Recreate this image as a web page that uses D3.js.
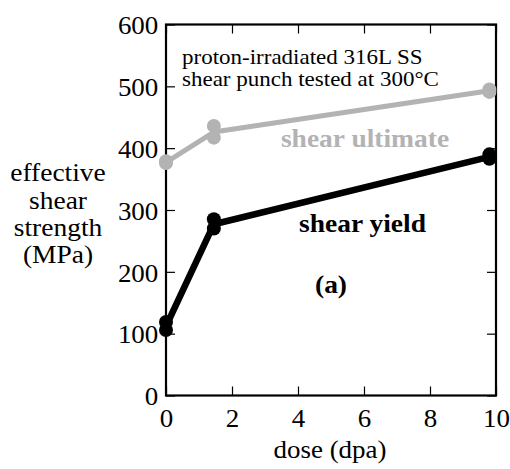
<!DOCTYPE html>
<html>
<head>
<meta charset="utf-8">
<script src="https://cdn.jsdelivr.net/npm/d3@7"></script>
<style>
  html, body { margin: 0; padding: 0; background: #fff; }
  svg { display: block; }
</style>
</head>
<body>
<svg id="chart" width="510" height="469"></svg>
<script>
// Shear punch results for proton-irradiated 316L stainless steel
const xTicks = [0, 2, 4, 6, 8, 10];
const yTicks = [0, 100, 200, 300, 400, 500, 600];

// individual specimen measurements (dose in dpa, strength in MPa)
const yieldDose = [0, 0, 1.45, 1.45, 9.8, 9.8];
const yieldStrength = [119, 106, 285, 270, 390, 383];
const ultimateDose = [0, 0, 1.45, 1.45, 9.8, 9.8];
const ultimateStrength = [379, 376, 436, 417, 495, 491];

// trend lines through the mean value at each dose
const yieldLineDose = [0, 1.45, 9.8];
const yieldLineStrength = [112, 277, 386];
const ultimateLineDose = [0, 1.45, 9.8];
const ultimateLineStrength = [377, 426, 493];

const FONT = '"Liberation Serif", "Times New Roman", serif';
const WIDEN = 1.1;   // slightly widened Times-style lettering
const svg = d3.select("#chart");
const plot = { left: 166, right: 496, top: 24.5, bottom: 395.5 };

const x = d3.scaleLinear().domain([0, 10]).range([plot.left, plot.right]);
const y = d3.scaleLinear().domain([0, 600]).range([plot.bottom, plot.top]);

const tickLen = 9;
const grey = "#b3b3b3";

// axes with inward ticks on all four sides
const axBottom = d3.axisBottom(x).tickValues(xTicks).tickSize(-tickLen).tickPadding(31.5).tickFormat(d3.format("d"));
const axTop = d3.axisTop(x).tickValues(xTicks).tickSize(-tickLen).tickFormat("");
const axLeft = d3.axisLeft(y).tickValues(yTicks).tickSize(-tickLen).tickPadding(7).tickFormat(d3.format("d"));
const axRight = d3.axisRight(y).tickValues(yTicks).tickSize(-tickLen).tickFormat("");

function style(g) {
  g.select(".domain").remove();
  g.selectAll(".tick line").attr("stroke", "#000").attr("stroke-width", 1.2);
  g.selectAll(".tick text")
    .style("font-family", FONT)
    .style("font-size", "24.5px")
    .attr("fill", "#000")
    .attr("transform", `scale(${WIDEN},1)`);
}

svg.append("g").attr("transform", `translate(0,${plot.bottom})`).call(axBottom).call(style)
  .selectAll(".tick text").attr("dy", "0");
svg.append("g").attr("transform", `translate(0,${plot.top})`).call(axTop).call(style);
svg.append("g").attr("transform", `translate(${plot.left},0)`).call(axLeft).call(style)
  .selectAll(".tick text").attr("dy", "0.38em");
svg.append("g").attr("transform", `translate(${plot.right},0)`).call(axRight).call(style);

// frame
svg.append("rect")
  .attr("x", plot.left).attr("y", plot.top)
  .attr("width", plot.right - plot.left).attr("height", plot.bottom - plot.top)
  .attr("fill", "none").attr("stroke", "#000").attr("stroke-width", 2.2);

const line = d3.line().x(d => x(d[0])).y(d => y(d[1]));

// shear ultimate
svg.append("path")
  .datum(d3.zip(ultimateLineDose, ultimateLineStrength))
  .attr("d", line).attr("fill", "none")
  .attr("stroke", grey).attr("stroke-width", 5).attr("stroke-linejoin", "round");
svg.append("g").selectAll("circle")
  .data(d3.zip(ultimateDose, ultimateStrength))
  .join("circle")
  .attr("cx", d => x(d[0])).attr("cy", d => y(d[1])).attr("r", 7)
  .attr("fill", grey);

// shear yield
svg.append("path")
  .datum(d3.zip(yieldLineDose, yieldLineStrength))
  .attr("d", line).attr("fill", "none")
  .attr("stroke", "#000").attr("stroke-width", 6.5).attr("stroke-linejoin", "round");
svg.append("g").selectAll("circle")
  .data(d3.zip(yieldDose, yieldStrength))
  .join("circle")
  .attr("cx", d => x(d[0])).attr("cy", d => y(d[1])).attr("r", 7)
  .attr("fill", "#000");

function label(xp, yp, txt, size, opts = {}) {
  return svg.append("text")
    .attr("transform", `translate(${xp},${yp}) scale(${opts.widen || WIDEN},1)`)
    .attr("text-anchor", opts.anchor || "start")
    .style("font-family", FONT)
    .style("font-size", size + "px")
    .style("font-weight", opts.bold ? "bold" : "normal")
    .style("fill", opts.color || "#000")
    .text(txt);
}

// annotations
label(182, 63.5, "proton-irradiated 316L SS", 20, { widen: 1.15 });
label(182, 85.5, "shear punch tested at 300°C", 20, { widen: 1.15 });
label(365, 146.5, "shear ultimate", 25, { anchor: "middle", bold: true, color: grey });
label(362.5, 231.5, "shear yield", 25, { anchor: "middle", bold: true });
label(331, 293, "(a)", 25, { anchor: "middle", bold: true });

// axis titles
label(330, 457.5, "dose (dpa)", 24.5, { anchor: "middle" });

const yTitle = ["effective", "shear", "strength", "(MPa)"];
svg.append("text")
  .attr("transform", `translate(58,0) scale(${WIDEN},1)`)
  .attr("text-anchor", "middle")
  .style("font-family", FONT).style("font-size", "25px")
  .selectAll("tspan").data(yTitle).join("tspan")
  .attr("x", 0).attr("y", (d, i) => 181.5 + i * 27.3).text(d => d);
</script>
</body>
</html>
